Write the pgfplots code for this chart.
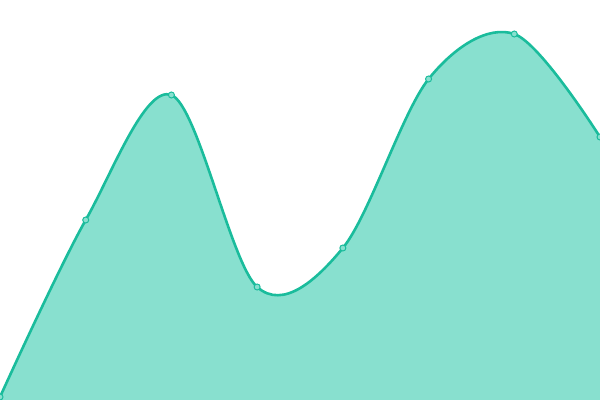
\documentclass[border=0pt]{standalone}
\usepackage{pgfplots}
\pgfplotsset{compat=1.18}
\definecolor{teal1}{RGB}{26,188,156}
\definecolor{tealfill}{RGB}{136,224,207}
\begin{document}
\begin{tikzpicture}
\begin{axis}[
  scale only axis, width=600bp, height=400bp,
  xmin=0, xmax=7, ymin=0, ymax=400,
  hide axis, clip=true,
]
\addplot[draw=none, fill=tealfill, smooth, tension=0.55] coordinates {
(0,3) (1,180) (2,305) (3,113) (4,152) (5,321) (6,366) (7,263)
} \closedcycle;
\addplot[teal1, line width=2.6bp, smooth, tension=0.55,
  mark=*, mark size=3bp,
  mark options={fill=tealfill, draw=teal1, line width=1bp}] coordinates {
(0,3) (1,180) (2,305) (3,113) (4,152) (5,321) (6,366) (7,263)
};
\end{axis}
\pgfresetboundingbox
\useasboundingbox (current axis.south west) rectangle (current axis.north east);
\end{tikzpicture}
\end{document}
